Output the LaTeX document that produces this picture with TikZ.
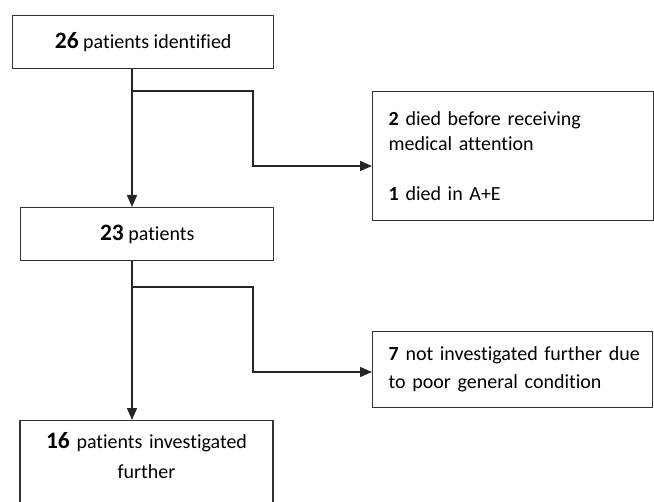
\documentclass[tikz,border=0pt]{standalone}
\usepackage{fontspec}
\setmainfont{Carlito}[Ligatures={NoCommon,NoContextual}]
\usetikzlibrary{arrows.meta}
\newcommand\bignum[1]{{\fontsize{23.5bp}{28bp}\selectfont\bfseries #1}}
\begin{document}
\begin{tikzpicture}[x=1bp,y=-1bp,
  box/.style={draw=black!80, line width=1.4bp, rectangle, inner sep=0pt, font=\fontsize{20bp}{25bp}\selectfont},
  conn/.style={draw=black!85, line width=1.4bp},
  arr/.style={conn, -{Triangle[length=12bp,width=10bp]}}]
\useasboundingbox (0,0) rectangle (654,502);
\clip (0,0) rectangle (654,502);
\fill[white] (0,0) rectangle (654,502);
% boxes
\node[box, anchor=north west, minimum width=261bp, minimum height=53bp] (b1) at (12,15) {\bignum{26} patients identified};
\node[box, anchor=north west, minimum width=253bp, minimum height=53bp] (b3) at (20,207) {\bignum{23} patients};
\node[box, anchor=north west, minimum height=129bp, text width=249bp, inner xsep=16bp, align=left] (b2) at (372,91)
  {{\bfseries 2} died before receiving\\ medical attention\\[25bp]{\bfseries 1} died in A+E};
\node[box, anchor=north west, minimum height=76bp, text width=248bp, inner xsep=16bp, align=left, font=\fontsize{20bp}{28bp}\selectfont] (b4) at (372,331)
  {\makebox[248bp][l]{{\bfseries 7} not investigated further due}\\ to poor general condition};
\node[box, anchor=north, minimum width=253bp, text width=253bp, inner ysep=12bp, align=center, font=\fontsize{20bp}{30bp}\selectfont] (b5) at (146.5,420)
  {\bignum{16} patients investigated\\ further\\[40bp]\mbox{}};
% connector points
\coordinate (s1) at (132,68);
\coordinate (j1) at (132,91);
\coordinate (e1) at (253,166);
\coordinate (s3) at (132,260);
\coordinate (j2) at (132,287);
\coordinate (e2) at (253,372);
% connectors
\draw[arr] (s1) -- (s1 |- b3.north);
\draw[arr] (j1) -| (e1) -- (e1 -| b2.west);
\draw[arr] (s3) -- (s3 |- b5.north);
\draw[arr] (j2) -| (e2) -- (e2 -| b4.west);
\end{tikzpicture}
\end{document}
